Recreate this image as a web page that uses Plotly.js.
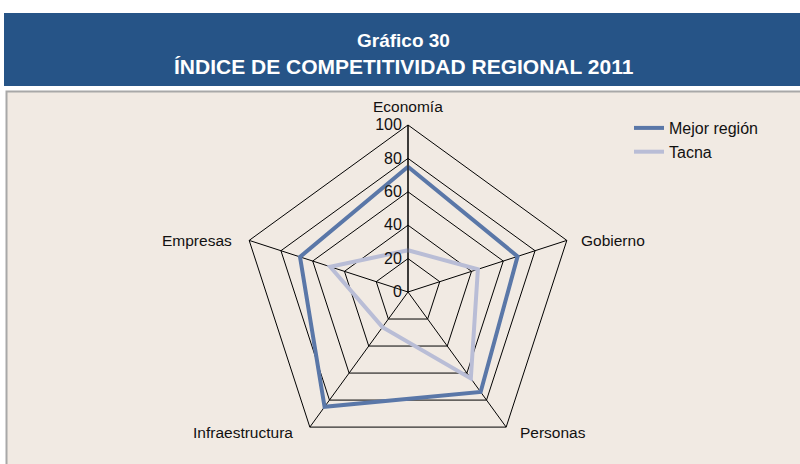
<!DOCTYPE html>
<html><head><meta charset="utf-8">
<script src="https://cdn.plot.ly/plotly-3.0.1.min.js"></script>
<style>html,body{margin:0;padding:0;background:#fff}#c{width:800px;height:464px}</style>
</head><body><div id="c"></div>
<script>
var categories = ["Economía","Gobierno","Personas","Infraestructura","Empresas"];
var mejorRegion = [75, 69, 74, 85, 68];
var tacna = [25, 44, 64, 26, 49];
var radialTicks = [0, 20, 40, 60, 80, 100];
var seriesNames = ["Mejor región", "Tacna"];

function closed(a){ return a.concat([a[0]]); }

var traces = [
  {type:'scatterpolar', r:closed(mejorRegion), theta:closed(categories), mode:'lines',
   name:seriesNames[0], line:{color:'#5a77a8', width:4}},
  {type:'scatterpolar', r:closed(tacna), theta:closed(categories), mode:'lines',
   name:seriesNames[1], line:{color:'#b9bdd6', width:4}}
];

var W=800,H=464;
var CX=408, CY=292, R=167;
var catAnn = categories.map(function(c,i){
  var th = (90 - i*360/categories.length)*Math.PI/180;
  var vx = CX + R*Math.cos(th), vy = CY - R*Math.sin(th);
  var cs = Math.cos(th), sn = Math.sin(th);
  var ax, dx=0, dy=0;
  if (Math.abs(cs) < 0.1) { ax='center'; dy=-19; }
  else { ax = cs>0 ? 'left':'right'; dx = cs>0 ? 12 : -15; dy = sn<0 ? 5 : 0; }
  return {xref:'paper', yref:'paper', x:(vx+dx)/W, y:1-(vy+dy)/H, text:c, showarrow:false,
    xanchor:ax, yanchor:'middle', font:{size:15.5, color:'#111'}};
});

var layout = {
  width:W, height:H, margin:{l:0,r:0,t:0,b:0},
  paper_bgcolor:'#ffffff',
  font:{family:'Liberation Sans, Arial, sans-serif', color:'#111'},
  showlegend:true,
  legend:{x:629/W, y:1-111/H, xanchor:'left', yanchor:'top', bgcolor:'rgba(0,0,0,0)',
          font:{size:16, color:'#111'}, tracegroupgap:0, itemwidth:30},
  shapes:[
    {type:'rect', xref:'paper', yref:'paper', x0:4/W, x1:1, y0:1-86/H, y1:1-13/H,
     fillcolor:'#265487', line:{width:0}, layer:'below'},
    {type:'rect', xref:'paper', yref:'paper', x0:6.5/W, x1:1.01, y0:-0.01, y1:1-91.5/H,
     fillcolor:'#f1eae3', line:{color:'#a8a8a8', width:2}, layer:'below'}
  ],
  annotations:[
    {xref:'paper', yref:'paper', x:403/W, y:1-40/H, text:'<b>Gráfico 30</b>', showarrow:false,
     font:{size:19, color:'#ffffff'}, xanchor:'center', yanchor:'middle'},
    {xref:'paper', yref:'paper', x:404/W, y:1-66/H, text:'<b>ÍNDICE DE COMPETITIVIDAD REGIONAL 2011</b>', showarrow:false,
     font:{size:21, color:'#ffffff'}, xanchor:'center', yanchor:'middle'}
  ].concat(catAnn),
  polar:{
    domain:{x:[241/W, 575/W], y:[5/H, 339/H]},
    bgcolor:'rgba(0,0,0,0)',
    gridshape:'linear',
    radialaxis:{range:[0,100], tickvals:radialTicks, ticktext:radialTicks.map(String),
      angle:90, tickangle:90, side:'counterclockwise', showline:true, linecolor:'#000', linewidth:1,
      gridcolor:'#000', gridwidth:1, ticks:'', tickfont:{size:16, color:'#111'}},
    angularaxis:{rotation:90, direction:'clockwise', showline:true, linecolor:'#000', linewidth:1,
      gridcolor:'#000', gridwidth:1, ticks:'', showticklabels:false}
  }
};
Plotly.newPlot('c', traces, layout, {displayModeBar:false, staticPlot:true});
</script></body></html>
